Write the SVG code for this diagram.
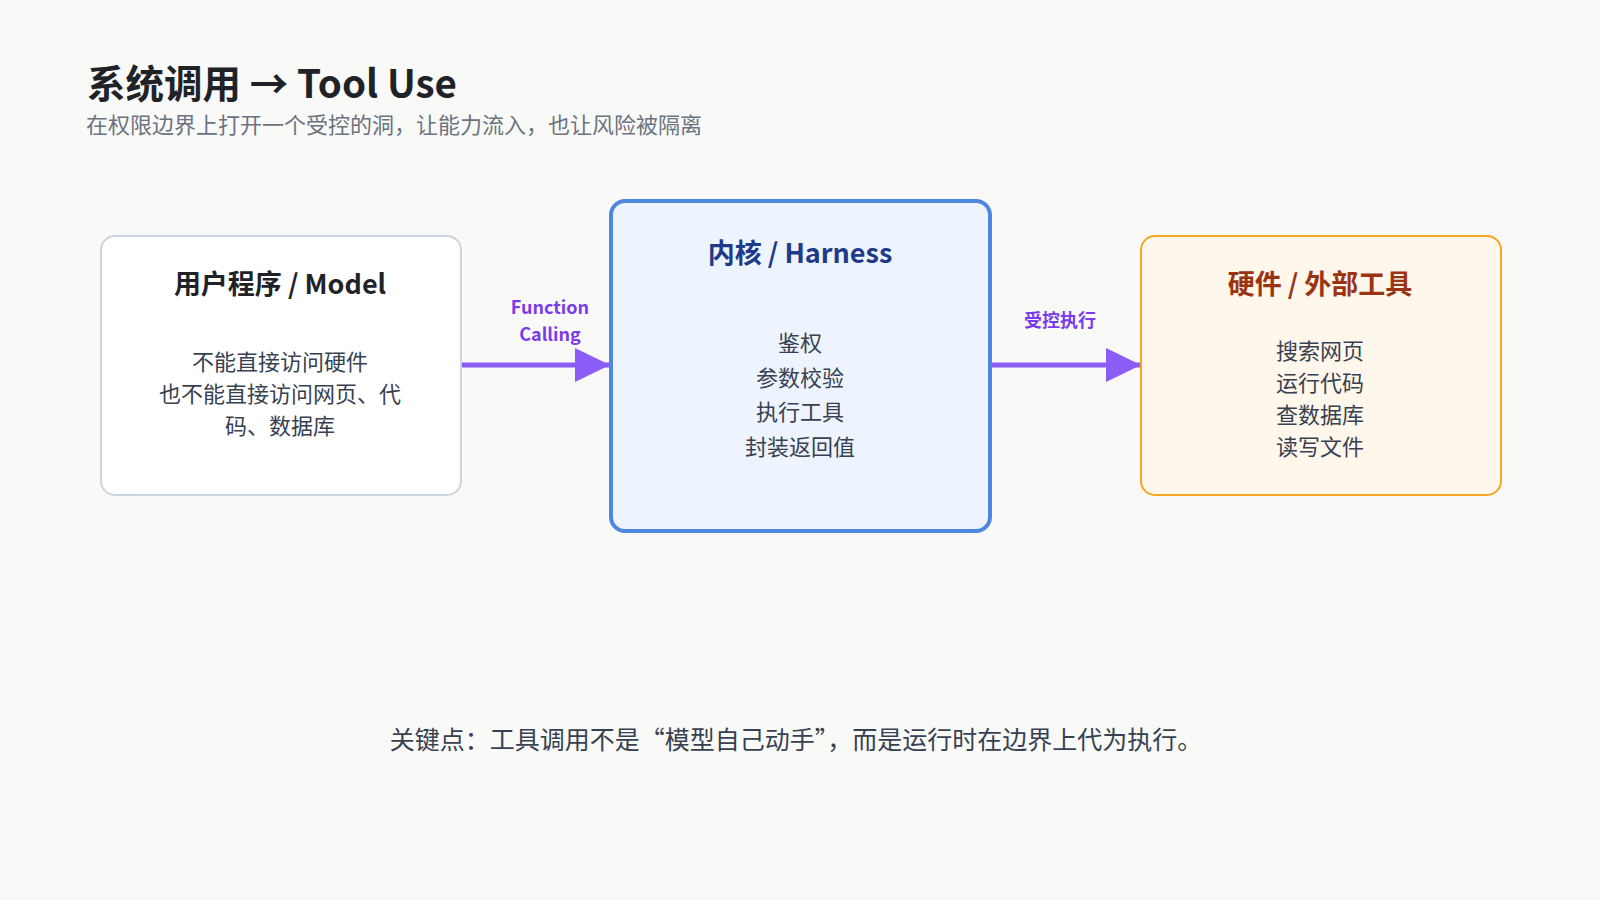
<svg xmlns="http://www.w3.org/2000/svg" width="1600" height="900" viewBox="0 0 1600 900">
<defs>
<style>
text{font-family:"Noto Sans CJK SC","Noto Sans",sans-serif}
.t{font-size:27px;font-weight:bold;text-anchor:middle}
.b{font-size:22px;fill:#374151;text-anchor:middle}
.l{font-size:18px;font-weight:bold;fill:#7c3aed;text-anchor:middle}
</style>
</defs>
<rect width="1600" height="900" fill="#f9faf7"/>
<text x="87" y="98" font-size="38.5" font-weight="bold" fill="#1f2328">系统调用 → Tool Use</text>
<text x="86" y="133" font-size="22" fill="#6b7280">在权限边界上打开一个受控的洞，让能力流入，也让风险被隔离</text>
<g id="connectors">
<line x1="461" y1="365" x2="609" y2="365" stroke="#8b5cf6" stroke-width="5"/>
<path d="M575,348L610,365L575,382z" fill="#8b5cf6"/>
<text class="l" x="550" y="314">Function</text>
<text class="l" x="550" y="341">Calling</text>
<line x1="991" y1="365" x2="1140" y2="365" stroke="#8b5cf6" stroke-width="5"/>
<path d="M1106,348L1141,365L1106,382z" fill="#8b5cf6"/>
<text class="l" x="1060" y="327">受控执行</text>
</g>
<g id="model">
<rect x="101" y="236" width="360" height="259" rx="14" fill="#fff" stroke="#cbd5e1" stroke-width="2"/>
<text class="t" x="280" y="294" fill="#1f2328">用户程序  / Model</text>
<text class="b" x="280" y="370">不能直接访问硬件</text>
<text class="b" x="280" y="402">也不能直接访问网页、代</text>
<text class="b" x="280" y="434">码、数据库</text>
</g>
<g id="kernel">
<rect x="611" y="201" width="379" height="330" rx="14" fill="#eef4fd" stroke="#4f86e0" stroke-width="4"/>
<text class="t" x="800" y="263" fill="#1e3a8a" font-size="30">内核 / Harness</text>
<text class="b" x="800" y="351" font-size="24">鉴权</text>
<text class="b" x="800" y="386" font-size="24">参数校验</text>
<text class="b" x="800" y="420" font-size="24">执行工具</text>
<text class="b" x="800" y="455" font-size="24">封装返回值</text>
</g>
<g id="hardware">
<rect x="1141" y="236" width="360" height="259" rx="14" fill="#fff6ec" stroke="#f5a623" stroke-width="2"/>
<text class="t" x="1320" y="294" fill="#9a3412">硬件 / 外部工具</text>
<text class="b" x="1320" y="359">搜索网页</text>
<text class="b" x="1320" y="391">运行代码</text>
<text class="b" x="1320" y="423">查数据库</text>
<text class="b" x="1320" y="455">读写文件</text>
</g>
<text x="796" y="749" font-size="25" fill="#374151" text-anchor="middle">关键点：工具调用不是“模型自己动手”，而是运行时在边界上代为执行。</text>
</svg>
